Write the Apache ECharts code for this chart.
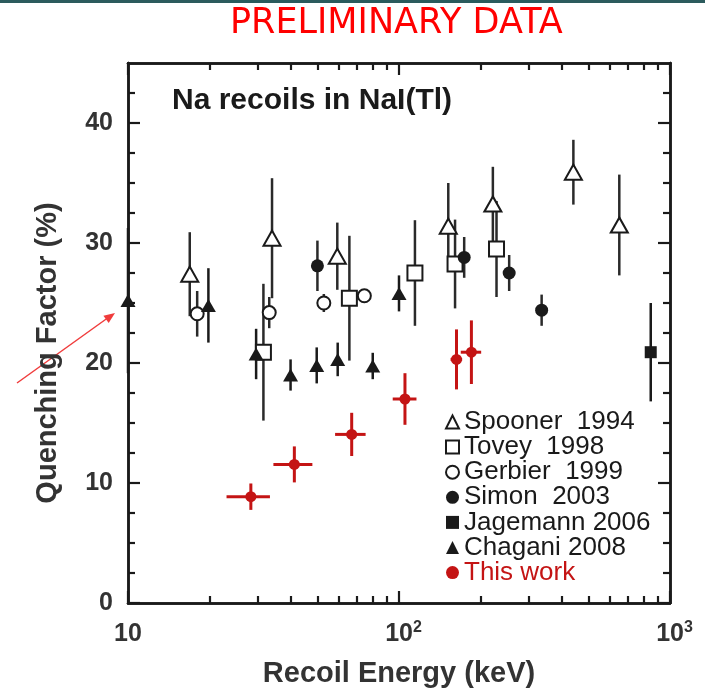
<!DOCTYPE html>
<html><head><meta charset="utf-8">
<script src="https://cdn.jsdelivr.net/npm/echarts@6/dist/echarts.min.js"></script>
<style>html,body{margin:0;padding:0;background:#fff}#c{width:705px;height:696px}</style>
</head><body><div id="c"></div>
<script>
// ---- data (energies in keV, quenching factor in %) ----
const spoonerE = [16.9, 34.0, 59.2, 152, 222, 440, 650];
const spoonerQ = [27.4, 30.4, 28.9, 31.4, 33.25, 35.9, 31.5];
const spoonerErr = [3.5, 5.0, 2.8, 3.6, 3.1, 2.7, 4.2];

const toveyE = [31.6, 65.6, 114.5, 161, 229];
const toveyQ = [20.9, 25.4, 27.5, 28.25, 29.5];
const toveyErr = [5.7, 5.2, 4.4, 3.7, 4.0];

const gerbierE = [18.0, 33.2, 52.8, 74.5];
const gerbierQ = [24.1, 24.2, 25.0, 25.6];
const gerbierErr = [1.9, 1.3, 0.75, 0.5];

const simonE = [50, 174, 255, 336];
const simonQ = [28.1, 28.8, 27.5, 24.4];
const simonErr = [2.1, 1.7, 1.5, 1.3];

const jagemannE = [849];
const jagemannQ = [20.9];
const jagemannErr = [4.1];

const chaganiE = [10, 19.8, 29.7, 39.8, 49.7, 59.4, 80.0, 100];
const chaganiQ = [25.2, 24.8, 20.75, 19.0, 19.8, 20.3, 19.75, 25.8];
const chaganiErr = [6.05, 3.1, 2.1, 1.3, 1.5, 1.4, 1.1, 1.5];

const thisE = [28.4, 41.1, 66.9, 105.2, 163, 185];
const thisQ = [8.86, 11.55, 14.05, 17.0, 20.3, 20.9];
const thisErr = [1.1, 1.5, 1.8, 2.15, 2.5, 2.65];
const thisELow = [23.1, 34.4, 58.1, 94.8, 155, 169];
const thisEHigh = [33.4, 47.9, 75.3, 116, 171, 201];

const seriesNames = ['Spooner  1994', 'Tovey  1998', 'Gerbier  1999', 'Simon  2003', 'Jagemann 2006', 'Chagani 2008', 'This work'];
const xMajorTicks = [10, 100, 1000];
const xMinorTicks = [20, 30, 40, 50, 60, 70, 80, 90, 200, 300, 400, 500, 600, 700, 800, 900];
const yMajorTicks = [0, 10, 20, 30, 40];
const yMinorTicks = [2.5, 5, 7.5, 12.5, 15, 17.5, 22.5, 25, 27.5, 32.5, 35, 37.5, 42.5];

// ---- styling ----
const FONT = '"Liberation Sans", Arial, Helvetica, sans-serif';
const INK = '#1a1a1a';
const BAR = '#2a2a2a';
const RED = '#c41414';

function pts(E, Q) { return E.map((e, i) => [e, Q[i]]); }
function errs(E, Q, Er) { return E.map((e, i) => [e, Q[i], Er[i]]); }

function vBar(color, width) {
  return function (params, api) {
    const x = api.value(0), y = api.value(1), e = api.value(2);
    const a = api.coord([x, y + e]), b = api.coord([x, y - e]);
    return { type: 'line', shape: { x1: a[0], y1: a[1], x2: b[0], y2: b[1] },
      style: { stroke: color, lineWidth: width } };
  };
}
function crossBar(color, width) {
  return function (params, api) {
    const x = api.value(0), y = api.value(1), e = api.value(2), xl = api.value(3), xh = api.value(4);
    const a = api.coord([x, y + e]), b = api.coord([x, y - e]);
    const c = api.coord([xl, y]), d = api.coord([xh, y]);
    return { type: 'group', children: [
      { type: 'line', shape: { x1: a[0], y1: a[1], x2: b[0], y2: b[1] }, style: { stroke: color, lineWidth: width } },
      { type: 'line', shape: { x1: c[0], y1: c[1], x2: d[0], y2: d[1] }, style: { stroke: color, lineWidth: width } }
    ] };
  };
}
function errSeries(name, data, render) {
  return { name: name, type: 'custom', renderItem: render, data: data, z: 2, silent: true,
    encode: { x: 0, y: 1 } };
}

const openStyle = { color: '#fff', borderColor: INK, borderWidth: 2, opacity: 1 };
const fillStyle = { color: INK, opacity: 1 };

const axisLine = { show: true, onZero: false, lineStyle: { color: INK, width: 2.5 } };
const tickMajor = { show: true, inside: true, length: 12, lineStyle: { color: INK, width: 2.2 } };
const tickMinor = { show: true, inside: true, length: 7, lineStyle: { color: INK, width: 2.2 } };

function xAx(pos, ticks, labels) {
  return {
    type: 'log', logBase: 10, min: 10, max: 1000, position: pos, gridIndex: 0,
    axisLine: axisLine, splitLine: { show: false },
    axisTick: Object.assign({}, ticks === xMajorTicks ? tickMajor : tickMinor, { customValues: ticks }),
    axisLabel: labels ? {
      show: true, customValues: xMajorTicks, margin: 14,
      formatter: function (v) {
        const p = Math.round(Math.log10(v));
        return p === 1 ? '{n|10}' : '{p|}{n|10}{s|' + p + '}';
      },
      rich: {
        n: { fontFamily: FONT, fontSize: 25, fontWeight: 'bold', color: '#333', verticalAlign: 'bottom', lineHeight: 30 },
        s: { fontFamily: FONT, fontSize: 16, fontWeight: 'bold', color: '#333', verticalAlign: 'bottom', lineHeight: 30, padding: [0, 0, 11, 0] },
        p: { width: 9 }
      }
    } : { show: false }
  };
}
function yAx(pos, ticks, labels) {
  return {
    type: 'value', min: 0, max: 45, position: pos, gridIndex: 0,
    axisLine: axisLine, splitLine: { show: false },
    axisTick: Object.assign({}, ticks === yMajorTicks ? tickMajor : tickMinor, { customValues: ticks }),
    axisLabel: labels ? { show: true, customValues: yMajorTicks, margin: 15,
      fontFamily: FONT, fontSize: 25, fontWeight: 'bold', color: '#333' } : { show: false }
  };
}

const xAxes = [xAx('bottom', xMajorTicks, true), xAx('bottom', xMinorTicks, false),
  xAx('top', xMajorTicks, false), xAx('top', xMinorTicks, false)];
xAxes[0].name = 'Recoil Energy (keV)';
xAxes[0].nameLocation = 'middle';
xAxes[0].nameGap = 56;
xAxes[0].nameTextStyle = { fontFamily: FONT, fontSize: 29, fontWeight: 'bold', color: '#333' };

const yAxes = [yAx('left', yMajorTicks, true), yAx('left', yMinorTicks, false),
  yAx('right', yMajorTicks, false), yAx('right', yMinorTicks, false)];
yAxes[0].name = 'Quenching Factor (%)';
yAxes[0].nameLocation = 'middle';
yAxes[0].nameGap = 66;
yAxes[0].nameTextStyle = { fontFamily: FONT, fontSize: 29, fontWeight: 'bold', color: '#333', padding: [0, 40, 0, 0] };

const chart = echarts.init(document.getElementById('c'), null, { renderer: 'canvas' });
chart.setOption({
  animation: false,
  backgroundColor: '#fff',
  grid: { left: 128, right: 35, top: 63, bottom: 93, containLabel: false },
  title: [
    { text: 'PRELIMINARY DATA', left: 230, top: 6, padding: 0,
      textStyle: { fontFamily: '"DejaVu Sans", sans-serif', fontSize: 35, fontWeight: 'normal', color: '#ff0000' } },
    { text: 'Na recoils in NaI(Tl)', left: 172, top: 86, padding: 0,
      textStyle: { fontFamily: FONT, fontSize: 30, fontWeight: 'bold', color: INK } }
  ],
  legend: {
    orient: 'vertical', left: 445, top: 409, padding: 0,
    itemWidth: 13, itemHeight: 13, itemGap: -0.9, selectedMode: false,
    textStyle: { fontFamily: FONT, fontSize: 26, color: INK },
    data: seriesNames.slice(0, 6).concat([{ name: 'This work', textStyle: { color: RED } }])
  },
  xAxis: xAxes,
  yAxis: yAxes,
  graphic: [
    { type: 'rect', left: 0, top: 0, shape: { width: 705, height: 3 }, style: { fill: '#2c5b5d' } },
    { type: 'line', shape: { x1: 17, y1: 383, x2: 109, y2: 317 }, style: { stroke: '#f03c3c', lineWidth: 1.5 } },
    { type: 'polygon', shape: { points: [[115, 313], [108.7, 323.1], [103.4, 315.7]] }, style: { fill: '#f03c3c' } }
  ],
  series: [
    errSeries('e0', errs(spoonerE, spoonerQ, spoonerErr), vBar(BAR, 2.5)),
    errSeries('e1', errs(toveyE, toveyQ, toveyErr), vBar(BAR, 2.5)),
    errSeries('e2', errs(gerbierE, gerbierQ, gerbierErr), vBar(BAR, 2.5)),
    errSeries('e3', errs(simonE, simonQ, simonErr), vBar(BAR, 2.5)),
    errSeries('e4', errs(jagemannE, jagemannQ, jagemannErr), vBar(INK, 2.5)),
    errSeries('e5', errs(chaganiE, chaganiQ, chaganiErr), vBar(INK, 2.5)),
    errSeries('e6', thisE.map((e, i) => [e, thisQ[i], thisErr[i], thisELow[i], thisEHigh[i]]), crossBar(RED, 3)),
    { name: seriesNames[0], type: 'scatter', z: 3, symbol: 'triangle', symbolSize: [17, 15], itemStyle: openStyle, data: pts(spoonerE, spoonerQ) },
    { name: seriesNames[1], type: 'scatter', z: 3, symbol: 'rect', symbolSize: 15, itemStyle: openStyle, data: pts(toveyE, toveyQ) },
    { name: seriesNames[2], type: 'scatter', z: 3, symbol: 'circle', symbolSize: 13, itemStyle: openStyle, data: pts(gerbierE, gerbierQ) },
    { name: seriesNames[3], type: 'scatter', z: 3, symbol: 'circle', symbolSize: 13, itemStyle: fillStyle, data: pts(simonE, simonQ) },
    { name: seriesNames[4], type: 'scatter', z: 3, symbol: 'rect', symbolSize: 12, itemStyle: fillStyle, data: pts(jagemannE, jagemannQ) },
    { name: seriesNames[5], type: 'scatter', z: 3, symbol: 'triangle', symbolSize: [15, 13], itemStyle: fillStyle, data: pts(chaganiE, chaganiQ), clip: false },
    { name: seriesNames[6], type: 'scatter', z: 3, symbol: 'circle', symbolSize: 11, itemStyle: { color: RED, opacity: 1 }, data: pts(thisE, thisQ) }
  ]
});
</script>
</body></html>
